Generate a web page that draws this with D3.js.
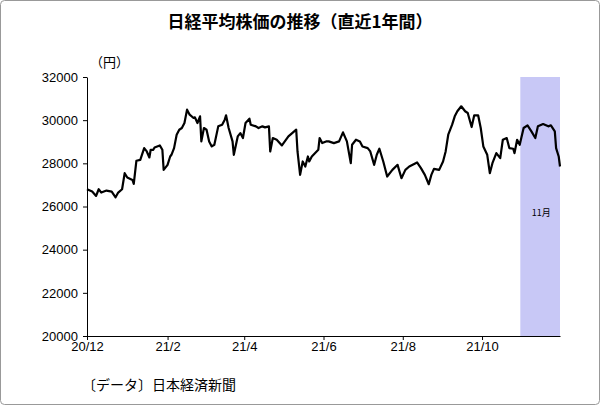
<!DOCTYPE html>
<html><head><meta charset="utf-8">
<script src="https://cdn.jsdelivr.net/npm/d3@7"></script>
<style>body{margin:0;background:#fff}</style></head>
<body><svg id="c" width="600" height="405"></svg>
<script>
const startDate = "2020-12-01";
const dayOffsets = [0,4,7,9,11,15,19,22,24,27,29,31,35,36,38,41,44,46,48,49,51,52,54,56,58,59,62,64,65,67,69,71,73,75,77,79,82,83,85,87,88,90,92,94,96,98,101,104,106,107,109,112,113,116,118,120,122,125,126,130,132,135,137,140,141,143,146,150,155,161,162,164,166,168,170,171,173,178,179,181,184,186,
190,194,197,200,203,204,207,210,212,216,218,221,223,225,228,231,235,239,242,245,248,254,257,260,263,265,267,271,274,276,278,281,283,285,288,291,293,296,298,301,303,305,308,310,312,315,318,320,323,325,328,329,331,333,336,339,342,345,347,351,355,357,360,361,363,364];
const prices = [26800,26691,26490,26800,26645,26738,26691,26428,26645,26800,27543,27342,27233,27048,28117,28163,28706,28551,28272,28628,28628,28737,28783,28830,28628,27698,27931,28318,28396,28706,29326,29558,29636,29868,30488,30256,30101,30132,29868,30178,29016,29636,29558,29016,28783,28861,29713,29791,30023,30225,29636,29016,28396,29248,29403,29171,29868,30070,29791,29713,29636,29713,29667,29713,28551,29171,29093,28830,29248,29558,28551,27466,28086,27854,28318,28086,28318,28628,29171,28938,29016,29016,
28938,29016,29434,29016,28008,28861,29093,29016,28783,28706,28551,27931,28396,28675,28086,27388,27698,27931,27311,27698,27854,28040,27776,27466,27032,27466,27745,27698,28086,28551,29326,29791,30178,30411,30643,30411,30333,29683,30225,30225,29636,28783,28396,27543,28008,28473,28241,29093,29171,28706,28675,28473,29093,28861,29636,29760,29481,29171,29713,29822,29713,29760,29481,28706,28318,27854];
const yTicks = [20000,22000,24000,26000,28000,30000,32000];
const xTickLabels = ["20/12","21/2","21/4","21/6","21/8","21/10"];
const xTickDates = ["2020-12-01","2021-02-01","2021-04-01","2021-06-01","2021-08-01","2021-10-01"];
const shadeRange = ["2021-11-01","2021-11-30"];

const pd = d3.timeParse("%Y-%m-%d");
const s0 = pd(startDate);
const data = dayOffsets.map((o,i)=>({d:d3.timeDay.offset(s0,o), v:prices[i]}));
const svg = d3.select("#c");
const font = "'Noto Sans CJK JP', sans-serif";
svg.append("rect").attr("x",0.5).attr("y",0.5).attr("width",599).attr("height",404).attr("rx",4)
  .attr("fill","#fff").attr("stroke","#999");
const L=87,R=560,T=77,B=336;
const x = d3.scaleTime().domain([s0, pd("2021-11-30")]).range([L,R]);
const y = d3.scaleLinear().domain([20000,32000]).range([B,T]);
svg.append("rect").attr("x",x(pd(shadeRange[0]))-2).attr("y",T)
  .attr("width",x(pd(shadeRange[1]))-x(pd(shadeRange[0]))+2).attr("height",B-T).attr("fill","#c8c8f6");
svg.append("text").attr("x",(x(pd(shadeRange[0]))+x(pd(shadeRange[1])))/2).attr("y",216)
  .attr("text-anchor","middle").attr("font-size",9).attr("font-family",font).text("11月");
const ya = svg.append("g").attr("transform",`translate(${L},0)`)
  .call(d3.axisLeft(y).tickValues(yTicks).tickFormat(d3.format("d")).tickSize(4).tickSizeOuter(0));
ya.selectAll("text").attr("font-size",13).attr("font-family","'Liberation Sans',Arial").attr("fill","#000").attr("dx",-2);
const xa = svg.append("g").attr("transform",`translate(0,${B})`)
  .call(d3.axisBottom(x).tickValues(xTickDates.map(pd)).tickFormat((d,i)=>xTickLabels[i]).tickSize(4).tickSizeOuter(0));
xa.selectAll("text").attr("font-size",13).attr("font-family","'Liberation Sans',Arial").attr("fill","#000").attr("dy",8);
svg.selectAll(".domain").attr("stroke","#000");
svg.append("path").datum(data).attr("fill","none").attr("stroke","#000").attr("stroke-width",2.2)
  .attr("stroke-linejoin","round").attr("d",d3.line().x(d=>x(d.d)).y(d=>y(d.v)));
svg.append("text").attr("x",300).attr("y",28).attr("text-anchor","middle").attr("font-size",17)
  .attr("font-family",font).attr("font-weight","bold").text("日経平均株価の推移（直近1年間）");
svg.append("text").attr("x",90).attr("y",67).attr("font-size",13).attr("font-family",font).text("（円）");
svg.append("text").attr("x",82).attr("y",390).attr("font-size",14).attr("font-family",font).text("〔データ〕日本経済新聞");
</script></body></html>
